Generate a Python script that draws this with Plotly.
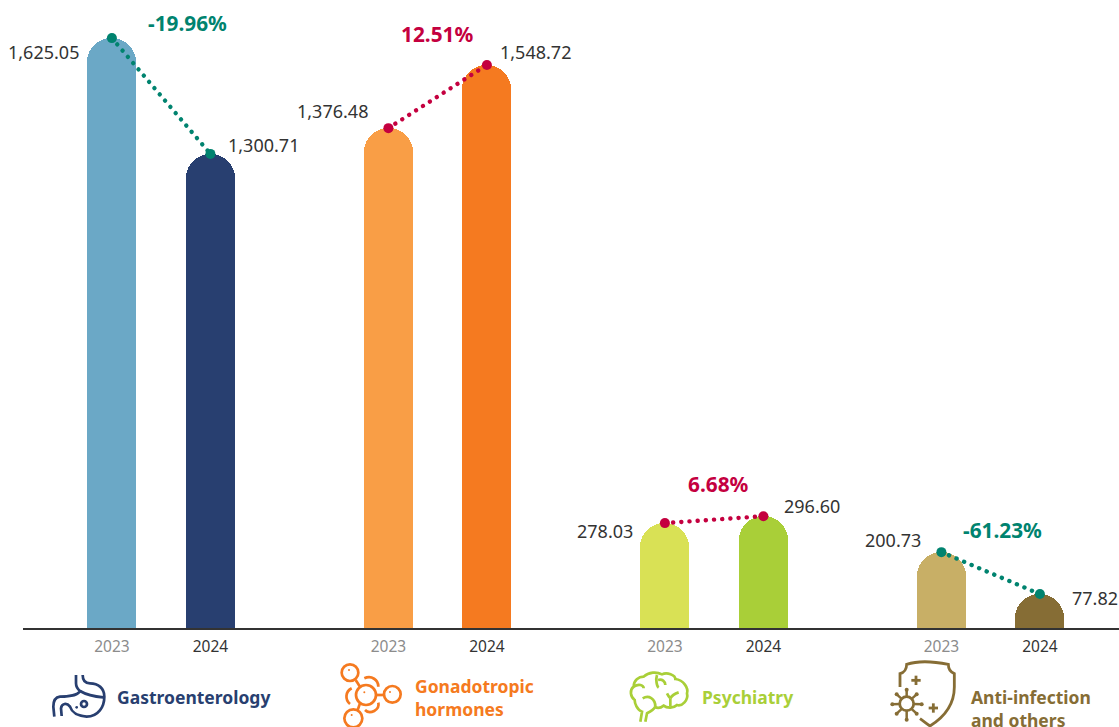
import re
import plotly.graph_objects as go

# ---- data -------------------------------------------------------------
categories = ["Gastroenterology", "Gonadotropic<br>hormones", "Psychiatry", "Anti-infection<br>and others"]
years = ["2023", "2024"]
values_2023 = [1625.05, 1376.48, 278.03, 200.73]
values_2024 = [1300.71, 1548.72, 296.60, 77.82]
change_pct = ["-19.96%", "12.51%", "6.68%", "-61.23%"]
# the reference draws some bars off true scale: drawn heights
drawn_2023 = [1625.05, 1377.0, 289.0, 209.0]
drawn_2024 = [1306.0, 1551.0, 308.0, 93.5]
colors_2023 = ["#6ba8c6", "#f99e46", "#d9e155", "#c8af66"]
colors_2024 = ["#283f70", "#f57a20", "#a9cf38", "#866d35"]
label_colors = ["#283f70", "#f57a20", "#a9cf38", "#866d35"]
UP, DOWN = "#c4003f", "#00836f"
FONT = "Noto Sans"
W, H = 1119, 727
AXIS_Y = 628
group_step = 2.807

centres = [i * group_step for i in range(4)]
x_pos, heights, colors, tick_text = [], [], [], []
for i, c in enumerate(centres):
    x_pos += [c, c + 1]
    heights += [drawn_2023[i], drawn_2024[i]]
    colors += [colors_2023[i], colors_2024[i]]
    tick_text += [f'<span style="color:#8c8c8c">{years[0]}</span>',
                  f'<span style="color:#333333">{years[1]}</span>']

fig = go.Figure()
fig.add_trace(go.Bar(x=x_pos, y=heights, width=0.4975,
                     marker=dict(color=colors, line=dict(width=0), cornerradius="50%"),
                     hoverinfo="skip"))

annots = []
for i, c in enumerate(centres):
    col = DOWN if change_pct[i].startswith("-") else UP
    fig.add_trace(go.Scatter(x=[c, c + 1], y=[drawn_2023[i], drawn_2024[i]], mode="lines",
                             line=dict(color=col, width=4.4, dash="0.1px,8.1px"), hoverinfo="skip"))
    fig.add_trace(go.Scatter(x=[c, c + 1], y=[drawn_2023[i], drawn_2024[i]], mode="markers",
                             marker=dict(color=col, size=10), hoverinfo="skip"))

# value labels: (xshift, yshift) from bar top
shift_a = [(-31, -14), (-18, 17), (-30, -8), (-18, 12)]
shift_b = [(16, 9), (11, 13), (19, 10), (30, -4)]
pct_shift = [(76, 15), (49, 94), (54, 39), (61, 22)]
for i, c in enumerate(centres):
    col = DOWN if change_pct[i].startswith("-") else UP
    annots.append(dict(x=c, y=drawn_2023[i], text=f"{values_2023[i]:,.2f}", xanchor="right", yanchor="middle",
                       xshift=shift_a[i][0], yshift=shift_a[i][1], showarrow=False,
                       font=dict(family=FONT, size=18, color="#333333")))
    annots.append(dict(x=c + 1, y=drawn_2024[i], text=f"{values_2024[i]:,.2f}", xanchor="left", yanchor="middle",
                       xshift=shift_b[i][0], yshift=shift_b[i][1], showarrow=False,
                       font=dict(family=FONT, size=18, color="#333333")))
    annots.append(dict(x=c, y=drawn_2023[i], text=f"<b>{change_pct[i]}</b>", xanchor="center", yanchor="middle",
                       xshift=pct_shift[i][0], yshift=pct_shift[i][1], showarrow=False,
                       font=dict(family=FONT, size=20.8, color=col)))

cat_px = [(115, 697), (413, 697.5), (700, 697), (969, 708.5)]
for (px, py), t, col in zip(cat_px, categories, label_colors):
    annots.append(dict(xref="paper", yref="paper", x=px / W, y=1 - py / H,
                       text="<br>".join(f"<b>{p}</b>" for p in t.split("<br>")),
                       xanchor="left", yanchor="middle", align="left", showarrow=False,
                       font=dict(family=FONT, size=17.5, color=col)))

# ---- icons (drawn from paper pixels of a 3x zoom) -----------------------
shapes = []

def ppath(ox, oy, d, col, w=2.7, fill=None):
    toks = re.findall(r"[MLCQZ]|-?\d+\.?\d*", d)
    out, is_x = [], True
    for t in toks:
        if t.isalpha():
            out.append(t); is_x = True
        else:
            v = float(t) / 3
            out.append(f"{(ox + v) / W:.5f}" if is_x else f"{1 - (oy + v) / H:.5f}")
            is_x = not is_x
    s = ""
    i = 0
    while i < len(out):
        if out[i].isalpha():
            s += out[i]; i += 1
        else:
            s += out[i] + "," + out[i + 1] + " "
            i += 2
    shapes.append(dict(type="path", xref="paper", yref="paper", path=s.strip(),
                       line=dict(color=col, width=w), fillcolor=fill or "rgba(0,0,0,0)"))

def pcirc(ox, oy, cx, cy, r, col, w=2.7, fill=None):
    x0, x1 = (ox + (cx - r) / 3) / W, (ox + (cx + r) / 3) / W
    y0, y1 = 1 - (oy + (cy + r) / 3) / H, 1 - (oy + (cy - r) / 3) / H
    shapes.append(dict(type="circle", xref="paper", yref="paper", x0=x0, x1=x1, y0=y0, y1=y1,
                       line=dict(color=col, width=w), fillcolor=fill or "rgba(0,0,0,0)"))

# stomach
c = label_colors[0]; ox, oy = 45, 665
ppath(ox, oy, "M93 30 L93 55 C93 68 100 74 105 78 C100 90 70 95 45 95 C30 97 25 110 25 125 L28 155", c)
ppath(ox, oy, "M50 153 L48 130 C50 115 65 112 75 125 C80 140 90 152 125 155 C160 155 178 125 178 95 C178 70 160 55 135 55 C120 55 113 45 113 30", c)
ppath(ox, oy, "M105 78 C125 90 150 95 175 97", c)
pcirc(ox, oy, 117, 117, 9, c)
pcirc(ox, oy, 95, 127, 4, c, 0, c)
# hormones
c = label_colors[1]; ox, oy = 335, 660
for cx, cy, r in [(45, 38, 25), (93, 105, 30), (172, 103, 25), (55, 175, 27)]:
    pcirc(ox, oy, cx, cy, r, c)
for d in ["M62 60 L75 80", "M123 105 L147 105", "M75 130 L68 150",
          "M88 55 C110 45 130 60 130 80", "M130 128 C135 150 105 165 90 150", "M50 85 C30 95 30 120 45 132"]:
    ppath(ox, oy, d, c)
for cx, cy in [(42, 30), (88, 97), (165, 96), (50, 165)]:
    pcirc(ox, oy, cx, cy, 3, c, 0, c)
# brain
c = label_colors[2]; ox, oy = 622, 665
for d in ["M55 170 L60 140 C45 135 38 115 38 105 C25 95 22 75 35 65 C35 45 50 35 65 35 C80 20 105 20 120 28 C135 20 160 30 160 42 C185 45 200 70 195 85 C200 105 180 125 165 120 C155 130 135 130 125 122 C115 130 105 130 98 125",
          "M70 170 L75 145 C85 140 95 135 100 125", "M62 100 C80 90 100 100 100 125",
          "M35 65 C50 55 65 60 65 70", "M105 30 C100 45 105 65 110 68", "M108 45 C120 40 130 50 130 60",
          "M145 125 L145 100", "M135 85 C140 95 145 100 145 100", "M145 100 C150 90 160 85 170 82"]:
    ppath(ox, oy, d, c)
# shield
c = label_colors[3]; ox, oy = 885, 657
ppath(ox, oy, "M45 90 L45 50 C58 47 65 35 65 22 C95 12 140 12 190 22 C190 35 195 45 208 50 L208 90 C208 150 170 185 135 207 C125 200 115 192 105 185", c, 2.8)
for d in ["M79 70 L107 70", "M93 56 L93 84", "M131 153 L159 153", "M145 139 L145 167"]:
    ppath(ox, oy, d, c, 2.8)
pcirc(ox, oy, 65, 140, 21, c, 2.8)
for ex, ey in [(65, 98), (35, 112), (22, 142), (35, 170), (65, 188), (95, 170), (110, 142), (95, 112)]:
    ppath(ox, oy, f"M{65 + (ex - 65) * 0.45:.0f} {140 + (ey - 140) * 0.45:.0f} L{ex} {ey}", c, 2.5)
    pcirc(ox, oy, ex, ey, 6, c, 0, c)

fig.update_layout(
    width=W, height=H, autosize=False, showlegend=False, template=None,
    paper_bgcolor="white", plot_bgcolor="white",
    margin=dict(l=0, r=0, t=0, b=0), bargap=0,
    xaxis=dict(domain=[23 / W, 1], range=[-0.9025, 10.224], tickmode="array", tickvals=x_pos, ticktext=tick_text,
               showgrid=False, zeroline=False, showline=True, linecolor="#333333", linewidth=2,
               ticks="outside", ticklen=3, tickcolor="rgba(0,0,0,0)",
               tickfont=dict(family=FONT, size=15.5, color="#333333"), anchor="y", fixedrange=True),
    yaxis=dict(domain=[(H - AXIS_Y) / H, 1], range=[0, 1730], visible=False, fixedrange=True),
    annotations=annots, shapes=shapes,
)

post = """
document.documentElement.style.overflow='hidden';
document.body.style.margin='0';
document.querySelectorAll('.js-line').forEach(function(e){e.style.strokeLinecap='round';});
"""
fig.write_html("out.html", post_script=post, config=dict(displayModeBar=False))
